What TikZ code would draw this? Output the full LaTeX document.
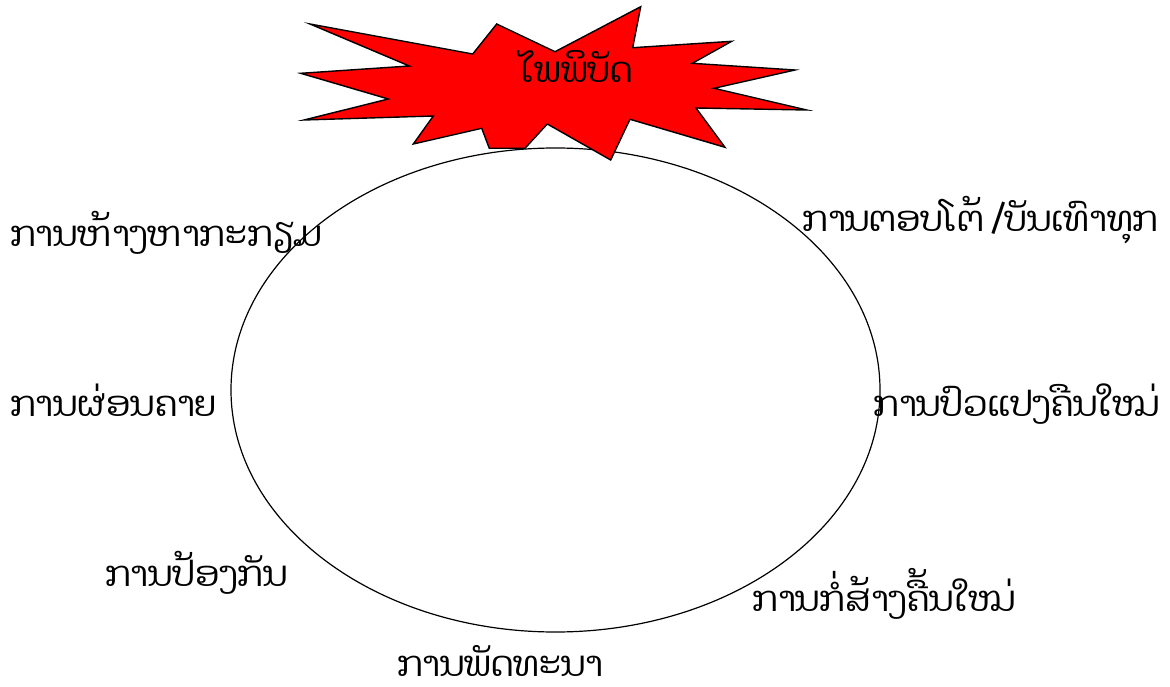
\documentclass[tikz,border=0pt]{standalone}
\usepackage{fontspec}
\usetikzlibrary{shapes.geometric}
\newfontfamily\laofont[Script=Lao]{Dhyana}
\begin{document}
\begin{tikzpicture}[x=1pt,y=-1pt,
  lbl/.style={font=\laofont\fontsize{35}{40}\selectfont, inner sep=0pt, anchor=base west}]
\useasboundingbox (0,0) rectangle (1170,687);
\node[draw, fill=white, ellipse, minimum width=649, minimum height=484, inner sep=0pt, line width=1.2pt] (cyc) at (555.5,390) {};
\filldraw[fill=red, draw=black, line width=1.4pt]
 (310,24) -- (472.7,54) -- (496.7,24) -- (555,51.7) -- (640.7,6.7) -- (632.7,47.7)
 -- (731.7,41.3) -- (692.3,63.3) -- (795,70) -- (714,88.3) -- (806.7,110) -- (696,108)
 -- (725,147.3) -- (630,119.3) -- (610.7,160) -- (547.3,124) -- (525,148.3) -- (489.3,148.3)
 -- (481.7,128.3) -- (413.3,144) -- (433.3,116) -- (304,120) -- (388.3,99) -- (300.7,73.3)
 -- (409.3,66) -- cycle;
\node[lbl] (t8) at (520,83) {ໄພພິບັດ};
\node[lbl] (t1) at (10,247) {ການຫ້າງຫາກະກຽມ};
\node[lbl] (t2) at (802,232) {ການຕອບໂຕ້ /ບັນເທົາທຸກ};
\node[lbl] (t3) at (10,416) {ການຜ່ອນຄາຍ};
\node[lbl] (t4) at (873,416) {ການປົວແປງຄືນໃໝ່};
\node[lbl] (t5) at (105,586) {ການປ້ອງກັນ};
\node[lbl] (t6) at (752,611.7) {ການກໍ່ສ້າງຄື້ນໃໝ່};
\node[lbl, text depth=0pt] (t7) at (397,676) {ການພັດທະນາ};
\end{tikzpicture}
\end{document}
